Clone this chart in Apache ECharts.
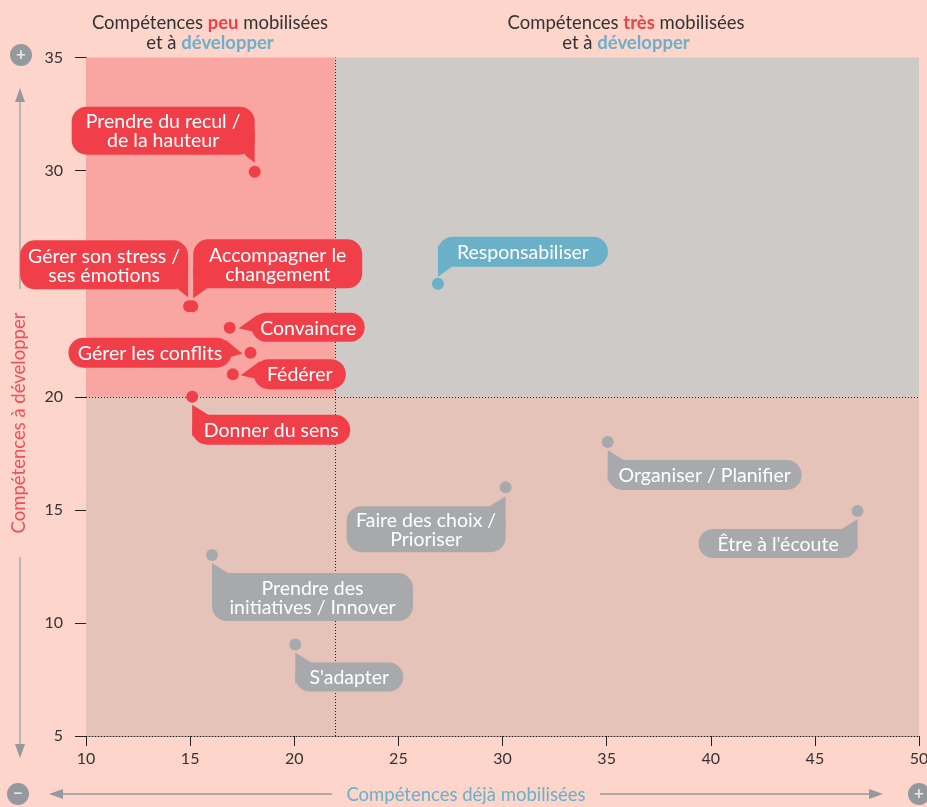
<!DOCTYPE html>
<html lang="fr"><head><meta charset="utf-8">
<style>html,body{margin:0;padding:0;background:#FDD5CA}#c{width:927px;height:807px}</style>
<script src="https://cdn.jsdelivr.net/npm/echarts@6/dist/echarts.min.js"></script>
</head><body><div id="c"></div>
<script>
// Data
const labels = ["Prendre du recul /\nde la hauteur","Gérer son stress /\nses émotions","Accompagner le\nchangement","Convaincre","Gérer les conflits","Fédérer","Donner du sens","Responsabiliser","Organiser / Planifier","Faire des choix /\nPrioriser","Être à l'écoute","Prendre des\ninitiatives / Innover","S'adapter"];
const xValues = [18.1,14.95,15.1,16.9,17.9,17.05,15.1,26.9,35.05,30.15,47.05,16.05,20.05];
const yValues = [29.95,24,24,23.05,21.95,21,20,25,18,16,14.95,13,9.05];
const groups  = ["red","red","red","red","red","red","red","blue","grey","grey","grey","grey","grey"];
const xTicks = {min:10,max:50,step:5};
const yTicks = {min:5,max:35,step:5};
const xSplit = 21.95, ySplit = 20;

// Style only
const FONT = "Lato";
const colors = {red:"#F03F48",blue:"#69B0C8",grey:"#A8A9AD"};
// bubble box relative to its point: dx,dy,w,h, tail kind
const bubbleLayout = [
 [-183,-65,183,48,"br"],[-169,-66,168,49,"br"],[1,-67,169,49,"bl"],
 [22,-15,113,29,"l"],[-182,-15,163,30,"r"],[21,-15,92,30,"l"],
 [0,18,158,30,"tl"],[0,-47,170,30,"bl"],[0,18,194,30,"tl"],
 [-159,19,159,46,"tr"],[-159,18,159,29,"tr"],[0,18,201,48,"tl"],[0,18,108,29,"tl"]
];
const cut = 14;

function renderBubble(params, api){
  const i = params.dataIndex;
  const p = api.coord([api.value(0), api.value(1)]);
  const [dx,dy,w,h,kind] = bubbleLayout[i];
  const c = colors[groups[i]];
  const x = p[0]+dx, y = p[1]+dy, r = x+w, b = y+h;
  let pts;
  if(kind==="br") pts=[[r,b+8],[r,b-cut-10],[r-cut+4,b]];
  if(kind==="bl") pts=[[x,b+10],[x,b-cut-8],[x+cut,b]];
  if(kind==="tl") pts=[[x,y-10],[x,y+cut+8],[x+cut+2,y]];
  if(kind==="tr") pts=[[r,y-10],[r,y+cut+8],[r-cut-2,y]];
  if(kind==="l")  pts=[[x-13,y+h/2+1],[x+6,y+2],[x+8,y+h/2+6]];
  if(kind==="r")  pts=[[r+11,y+h/2+1],[r-6,y+2],[r-8,y+h/2+6]];
  return {type:"group",children:[
    {type:"rect",shape:{x,y,width:w,height:h,r:15},style:{fill:c}},
    {type:"polygon",shape:{points:pts},style:{fill:c}},
    {type:"circle",shape:{cx:p[0],cy:p[1],r:6},style:{fill:c}},
    {type:"text",x:x+w/2,y:y+h/2+1,style:{text:labels[i],fill:"#fff",font:"19.5px "+FONT,align:"center",verticalAlign:"middle",lineHeight:19}}
  ]};
}

const headRich = {r:{color:"#F03F48",fontWeight:"bold",fontSize:18.5,fontFamily:FONT,lineHeight:20},
                  b:{color:"#69B0C8",fontWeight:"bold",fontSize:18.5,fontFamily:FONT,lineHeight:20}};
const head = (cx,t)=>({text:t,left:cx,top:8,textAlign:"center",textStyle:{color:"#333",fontSize:18.5,fontWeight:"normal",fontFamily:FONT,lineHeight:20,rich:headRich}});

const dotted = {color:"#222",width:1,type:[1,2]};
const arrowLine = (x1,y1,x2,y2,c)=>({type:"line",shape:{x1,y1,x2,y2},style:{stroke:c,lineWidth:1.5}});
const arrowHead = (pts,c)=>({type:"polygon",shape:{points:pts},style:{fill:c}});
const badge = (cx,cy,t)=>[{type:"circle",shape:{cx,cy,r:11},style:{fill:"#94999E"}},
  {type:"text",x:cx,y:cy,style:{text:t,fill:"#E8E8E8",font:"bold 17px "+FONT,align:"center",verticalAlign:"middle"}}];

const chart = echarts.init(document.getElementById("c"));
chart.setOption({
  backgroundColor:"#FDD5CA",
  animation:false,
  title:[head(205,"Compétences {r|peu} mobilisées\net à {b|développer}"),head(621,"Compétences {r|très} mobilisées\net à {b|développer}")],
  grid:{left:86,right:8,top:57.5,bottom:71,outerBoundsMode:"none"},
  xAxis:{type:"value",min:xTicks.min,max:xTicks.max,interval:xTicks.step,splitLine:{show:false},
    axisLine:{show:true,lineStyle:dotted},axisTick:{show:true,length:10,lineStyle:{color:"#222",width:1}},
    axisLabel:{color:"#333",fontSize:16,fontFamily:FONT,margin:15,hideOverlap:false,showMinLabel:true,showMaxLabel:true}},
  yAxis:{type:"value",min:yTicks.min,max:yTicks.max,interval:yTicks.step,splitLine:{show:false},
    axisLine:{show:true,lineStyle:dotted},axisTick:{show:true,length:11,lineStyle:{color:"#222",width:1}},
    axisLabel:{color:"#333",fontSize:16,fontFamily:FONT,margin:23,showMinLabel:true,showMaxLabel:true}},
  series:[
    {type:"scatter",data:[],silent:true,z:1,
     markArea:{silent:true,data:[
       [{xAxis:xTicks.min,yAxis:ySplit,itemStyle:{color:"#F9A5A2"}},{xAxis:xSplit,yAxis:yTicks.max}],
       [{xAxis:xSplit,yAxis:ySplit,itemStyle:{color:"#CECAC7"}},{xAxis:xTicks.max,yAxis:yTicks.max}],
       [{xAxis:xTicks.min,yAxis:yTicks.min,itemStyle:{color:"#E5C3B8"}},{xAxis:xTicks.max,yAxis:ySplit}]
     ]},
     markLine:{silent:true,symbol:"none",label:{show:false},lineStyle:dotted,data:[{xAxis:xSplit},{yAxis:ySplit}]}},
    {type:"custom",z:5,clip:false,data:xValues.map((v,i)=>[v,yValues[i]]),renderItem:renderBubble,encode:{x:0,y:1}}
  ],
  graphic:[
    ...badge(21,55,"+"),...badge(18,794,"−"),...badge(919,794,"+"),
    arrowLine(20,289,20,100,"#A8A9AD"),arrowHead([[20,88],[15,102],[25,102]],"#94999E"),
    arrowLine(20,557,20,745,"#A8A9AD"),arrowHead([[20,758],[15,744],[25,744]],"#94999E"),
    arrowLine(332,794,60,794,"#94999E"),arrowHead([[49,794],[63,789],[63,799]],"#94999E"),
    arrowLine(600,794,872,794,"#94999E"),arrowHead([[883,794],[869,789],[869,799]],"#94999E"),
    {type:"text",x:466,y:795,style:{text:"Compétences déjà mobilisées",fill:"#69B0C8",font:"18.5px "+FONT,align:"center",verticalAlign:"middle"}},
    {type:"text",x:19,y:423,rotation:Math.PI/2,style:{text:"Compétences à développer",fill:"#F0505A",font:"18.5px "+FONT,align:"center",verticalAlign:"middle"}}
  ]
});
</script></body></html>
